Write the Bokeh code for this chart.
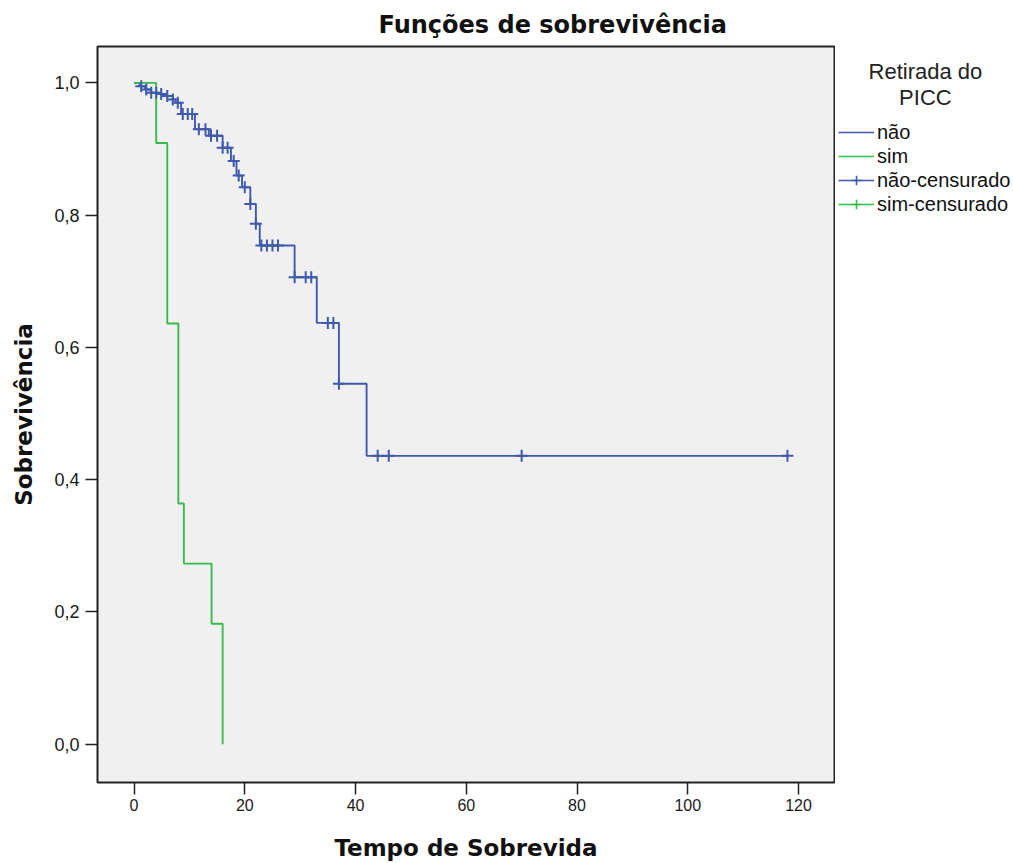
import numpy as np
from bokeh.plotting import figure
from bokeh.layouts import row
from bokeh.models import (Legend, LegendItem, FixedTicker,
                          CustomJSTickFormatter, Range1d)
from bokeh.embed import file_html
from bokeh.resources import INLINE

# ---- data ----
nao_time = [0, 1, 2, 3, 4.5, 6, 7, 7.5, 8.5, 11, 13.5, 16, 17.5, 18.5, 19.5,
            21, 22, 22.7, 29, 33, 37, 42, 118]
nao_surv = [1.0, 0.995, 0.990, 0.985, 0.983, 0.980, 0.975, 0.970, 0.953, 0.930,
            0.920, 0.902, 0.882, 0.860, 0.842, 0.817, 0.787, 0.754, 0.706,
            0.637, 0.545, 0.436, 0.436]
nao_cens_time = [1.3, 2.2, 3.1, 4, 4.9, 6, 7, 7.9, 8.8, 9.7, 10.5, 11.7, 12.9,
                 13.9, 15, 16, 16.9, 18, 18.9, 20, 21, 22, 23, 24, 25, 26, 29,
                 31, 32, 35, 36, 37, 44, 46, 70, 118]
nao_cens_surv = [0.995, 0.990, 0.985, 0.985, 0.983, 0.980, 0.975, 0.970, 0.953,
                 0.953, 0.953, 0.930, 0.930, 0.920, 0.920, 0.902, 0.902, 0.882,
                 0.860, 0.842, 0.817, 0.787, 0.754, 0.754, 0.754, 0.754, 0.706,
                 0.706, 0.706, 0.637, 0.637, 0.545, 0.436, 0.436, 0.436, 0.436]
sim_time = [0, 4, 6, 8, 9, 14, 16]
sim_surv = [1.0, 0.909, 0.636, 0.364, 0.273, 0.182, 0.0]
sim_cens_time = []
sim_cens_surv = []

x_ticks = [0, 20, 40, 60, 80, 100, 120]
y_ticks = [0.0, 0.2, 0.4, 0.6, 0.8, 1.0]
group_labels = ["não", "sim", "não-censurado", "sim-censurado"]
legend_title = ["Retirada do", "PICC"]

BLUE = "#3f5aad"
GREEN = "#38bb4b"
NAN = [float("nan")]
NB = "\u00a0"

# ---------------- main plot ----------------
p = figure(width=835, height=863,
           x_range=Range1d(-6.6, 126.5), y_range=Range1d(-0.058, 1.055),
           output_backend="svg", toolbar_location=None,
           min_border_left=97, min_border_right=1,
           min_border_top=45, min_border_bottom=81)

p.background_fill_color = "#f0f0f0"
p.border_fill_color = "white"
p.outline_line_color = "#222222"
p.outline_line_width = 2
p.grid.visible = False

p.title.text = "Funções de sobrevivência"
p.title.align = "left"
p.title.offset = 281
p.title.text_font = "DejaVu Sans"
p.title.text_font_style = "bold"
p.title.text_font_size = "24px"
p.title.text_color = "#111111"
p.title.standoff = 16

p.xaxis.ticker = FixedTicker(ticks=x_ticks)
p.yaxis.ticker = FixedTicker(ticks=y_ticks)
p.yaxis.formatter = CustomJSTickFormatter(
    code="return tick.toFixed(1).replace('.', ',');")
for ax in (p.xaxis, p.yaxis):
    ax.axis_line_color = None
    ax.major_tick_out = 12
    ax.major_tick_in = 0
    ax.minor_tick_line_color = None
    ax.major_tick_line_color = "#222222"
    ax.major_tick_line_width = 1.5
    ax.major_label_text_color = "#1a1a1a"
    ax.major_label_text_font = "Liberation Sans"
    ax.axis_label_text_font = "DejaVu Sans"
    ax.axis_label_text_font_style = "bold"
    ax.axis_label_text_font_size = "23px"
    ax.axis_label_text_color = "#111111"
p.xaxis.major_label_text_font_size = "16px"
p.yaxis.major_label_text_font_size = "18px"
p.xaxis.major_label_standoff = 4
p.yaxis.major_label_standoff = 6
p.xaxis.axis_label = "Tempo de Sobrevida"
p.yaxis.axis_label = "Sobrevivência"
p.xaxis.axis_label_text_line_height = 0.9
p.xaxis.axis_label_standoff = 21
p.yaxis.axis_label_standoff = 14

p.step(x=nao_time, y=nao_surv, mode="after", line_color=BLUE, line_width=1.9)
p.step(x=sim_time, y=sim_surv, mode="after", line_color=GREEN, line_width=1.9)
p.scatter(x=nao_cens_time, y=nao_cens_surv, marker="cross", size=12,
          line_color=BLUE, line_width=2)
p.scatter(x=sim_cens_time, y=sim_cens_surv, marker="cross", size=12,
          line_color=GREEN, line_width=2)

# ---------------- legend panel ----------------
q = figure(width=178, height=863, x_range=Range1d(0, 1), y_range=Range1d(0, 1),
           x_axis_type=None, y_axis_type=None,
           output_backend="svg", toolbar_location=None,
           min_border_left=0, min_border_right=0,
           min_border_top=0, min_border_bottom=0)
q.outline_line_color = None
q.background_fill_color = "white"
q.border_fill_color = "white"
q.grid.visible = False

l_nao = q.line(x=NAN, y=NAN, line_color=BLUE, line_width=1.6)
l_sim = q.line(x=NAN, y=NAN, line_color=GREEN, line_width=1.6)
l_nao_c = q.line(x=NAN, y=NAN, line_color=BLUE, line_width=1.6)
m_nao_c = q.scatter(x=NAN, y=NAN, marker="cross", size=12,
                    line_color=BLUE, line_width=1.6)
l_sim_c = q.line(x=NAN, y=NAN, line_color=GREEN, line_width=1.6)
m_sim_c = q.scatter(x=NAN, y=NAN, marker="cross", size=12,
                    line_color=GREEN, line_width=1.6)

legend = Legend(items=[
    LegendItem(label=group_labels[0], renderers=[l_nao]),
    LegendItem(label=group_labels[1], renderers=[l_sim]),
    LegendItem(label=group_labels[2], renderers=[l_nao_c, m_nao_c]),
    LegendItem(label=group_labels[3], renderers=[l_sim_c, m_sim_c]),
], location=(3, 566), orientation="vertical",
    title=NB * 5 + legend_title[0] + "\n" + NB * 10 + legend_title[1],
    title_text_font="Liberation Sans", title_text_font_size="22px",
    title_text_font_style="normal", title_text_color="#222222",
    title_standoff=9,
    glyph_width=36, glyph_height=24, label_height=20, spacing=0,
    label_standoff=3, padding=0, margin=0,
    border_line_color=None, background_fill_alpha=0,
    label_text_font="Liberation Sans", label_text_font_size="20px",
    label_text_color="#111111")
q.add_layout(legend)

layout = row(p, q, spacing=0)
open("out.html", "w").write(file_html(layout, INLINE))
